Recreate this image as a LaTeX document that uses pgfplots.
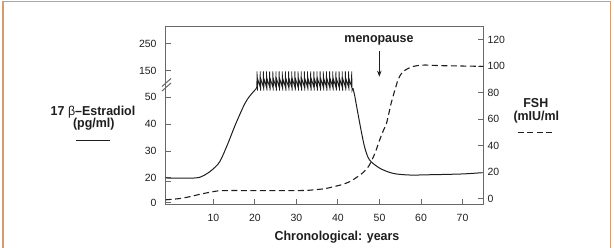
\documentclass[border=0pt]{standalone}
\usepackage{pgfplots}
\pgfplotsset{compat=1.18}
\usepackage{fontspec}
\setmainfont{Liberation Sans}
\newfontfamily\labelfont[FakeStretch=0.96]{Liberation Sans}
\usetikzlibrary{arrows.meta}

\definecolor{framecol}{RGB}{214,156,112}
\definecolor{axiscol}{RGB}{105,105,105}
\definecolor{inkcol}{RGB}{30,30,30}
\newcommand\ticksfont{\fontsize{10.5}{12}\selectfont}
\newcommand\lblfont{\labelfont\bfseries\fontsize{13}{15}\selectfont}

\tikzset{
  estradiol/.style={inkcol, line width=1bp},
  fsh/.style={inkcol, line width=1.1bp, dash pattern=on 6bp off 3.5bp},
}
\pgfplotsset{
  hormone/.style={
    at={(165.7bp,43.7bp)}, anchor=south west,
    scale only axis, width=317.6bp, height=177.6bp,
    xmin=-1.5, xmax=75,
    tick align=inside, major tick length=5bp,
    axis line style={axiscol, line width=1.3bp},
    tick style={axiscol, line width=1bp},
    tick label style={font=\ticksfont, inner sep=0pt, text=inkcol},
    /pgf/number format/assume math mode=true,
  },
}

\begin{document}
\begin{tikzpicture}
\path[use as bounding box] (0,0) rectangle (614bp,248bp);
\draw[framecol, line width=1.5bp] (2.8bp,0) -- (2.8bp,246.6bp) -- (610.5bp,246.6bp) -- (610.5bp,0);

% 17 beta-estradiol (pg/ml), left axis with a broken scale above 50
\begin{axis}[hormone,
  y coord trafo/.code={\pgfmathparse{1.3+1.25*min(#1,20)+2.69*max(0,min(#1,50)-20)+0.267*max(0,#1-50)}},
  ymin=-1.04, ymax=314,
  xtick={10,20,30,40,50,60,70}, xtick pos=bottom,
  xticklabel style={yshift=-10bp},
  ytick={0,20,30,40,50,150,250}, yticklabels={0,20,30,40,50,150,250},
  ytick pos=left, yticklabel style={xshift=-9bp},
]
\addplot[estradiol, smooth, tension=0.5] coordinates {
  (-1.5,20) (5.5,20) (7.5,20.8) (9.5,22.8) (11.5,26) (13.4,32.5)
  (15.2,39.5) (17.2,46.5) (18.2,49.3) (19.2,63) (20.3,82)
};
% cyclic peaks of the reproductive years
\addplot[inkcol, line width=0.8bp] coordinates {
  (20.3,82)
  (20.45,90) (20.50,147) (20.60,75) (20.67,118)
  (21.21,90) (21.26,147) (21.36,75) (21.43,118)
  (21.97,90) (22.02,147) (22.12,75) (22.19,118)
  (22.73,90) (22.78,147) (22.88,75) (22.95,118)
  (23.49,90) (23.54,147) (23.64,75) (23.71,118)
  (24.25,90) (24.30,147) (24.40,75) (24.47,118)
  (25.01,90) (25.06,147) (25.16,75) (25.23,118)
  (25.77,90) (25.82,147) (25.92,75) (25.99,118)
  (26.53,90) (26.58,147) (26.68,75) (26.75,118)
  (27.29,90) (27.34,147) (27.44,75) (27.51,118)
  (28.05,90) (28.10,147) (28.20,75) (28.27,118)
  (28.81,90) (28.86,147) (28.96,75) (29.03,118)
  (29.57,90) (29.62,147) (29.72,75) (29.79,118)
  (30.33,90) (30.38,147) (30.48,75) (30.55,118)
  (31.09,90) (31.14,147) (31.24,75) (31.31,118)
  (31.85,90) (31.90,147) (32.00,75) (32.07,118)
  (32.61,90) (32.66,147) (32.76,75) (32.83,118)
  (33.37,90) (33.42,147) (33.52,75) (33.59,118)
  (34.13,90) (34.18,147) (34.28,75) (34.35,118)
  (34.89,90) (34.94,147) (35.04,75) (35.11,118)
  (35.65,90) (35.70,147) (35.80,75) (35.87,118)
  (36.41,90) (36.46,147) (36.56,75) (36.63,118)
  (37.17,90) (37.22,147) (37.32,75) (37.39,118)
  (37.93,90) (37.98,147) (38.08,75) (38.15,118)
  (38.69,90) (38.74,147) (38.84,75) (38.91,118)
  (39.45,90) (39.50,147) (39.60,75) (39.67,118)
  (40.21,90) (40.26,147) (40.36,75) (40.43,118)
  (40.97,90) (41.02,147) (41.12,75) (41.19,118)
  (41.73,90) (41.78,147) (41.88,75) (41.95,118)
  (42.49,90) (42.54,147) (42.64,75) (42.71,118)
  (43.25,90) (43.30,147) (43.40,75) (43.6,84)
};
\addplot[estradiol, smooth, tension=0.5] coordinates {
  (43.6,84) (44.0,58) (44.5,46.5) (45.7,36.6) (46.5,31) (47.6,26.7)
  (50.1,23.6) (53.3,21.7) (57.3,21.1) (62,21.2) (70,21.5) (75,22)
};
\end{axis}

% FSH (mIU/ml), right axis
\begin{axis}[hormone,
  ymin=-4.4, ymax=130,
  axis x line=none, axis y line*=right,
  ytick={0,20,40,60,80,100,120},
  yticklabel style={xshift=4bp},
]
\addplot[fsh, smooth, tension=0.5] coordinates {
  (-1.5,-1) (2,0) (4.5,1.5) (6.5,3) (8.3,4.2) (10,5.2) (11.5,5.9) (13,6)
  (20,6) (31,6) (34,6.5) (37,7.5) (39,9) (41,10.5) (43,13) (44.5,16)
  (46,19.5) (47.3,24) (48,28) (49,35) (50,44) (51,52) (51.7,57) (52.8,72)
  (53.7,82) (54.5,90) (55.5,95.5) (57.3,99) (59,100.5) (61,101) (65,100.5)
  (75,100)
};
\end{axis}

% axis break marks
\draw[axiscol, line width=1bp] (162bp,157bp) -- (171bp,165bp);
\draw[axiscol, line width=1bp] (162bp,161.5bp) -- (171bp,169.5bp);
\draw[axiscol, line width=1bp] (165.7bp,66.3bp) -- (170.7bp,66.3bp);

% labels and key
\node[font=\lblfont, text=inkcol] at (93bp,136.3bp) {17 {\mdseries β}–Estradiol};
\node[font=\lblfont, text=inkcol] at (93.8bp,123.7bp) {(pg/ml)};
\draw[inkcol, line width=1bp] (76bp,107bp) -- (110bp,107bp);
\node[font=\lblfont, text=inkcol] at (535.8bp,145.3bp) {FSH};
\node[font=\lblfont, text=inkcol] at (536.3bp,130.7bp) {(mIU/ml};
\draw[fsh] (517.7bp,115.7bp) -- (553bp,115.7bp);
\node[font=\lblfont, text=inkcol] at (379bp,207.3bp) {menopause};
\draw[inkcol, line width=0.9bp, -{Stealth[length=6bp,width=4.5bp]}] (379.3bp,196.5bp) -- (379.3bp,171.3bp);
\node[font=\lblfont, text=inkcol] at (337bp,11.3bp) {Chronological: years};
\end{tikzpicture}
\end{document}
